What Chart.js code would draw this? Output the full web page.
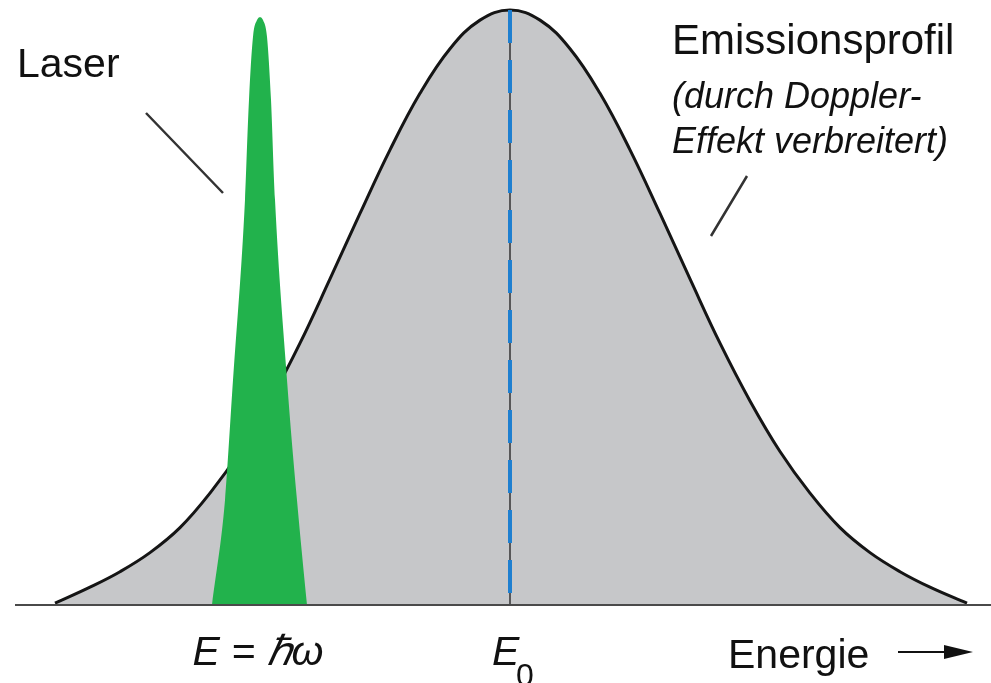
<!DOCTYPE html>
<html lang="de">
<head>
<meta charset="utf-8">
<title>Emissionsprofil und Laser</title>
<script src="https://cdn.jsdelivr.net/npm/chart.js@4/dist/chart.umd.min.js"></script>
<style>
    html, body { margin: 0; padding: 0; background: #fff; }
    canvas { display: block; }
</style>
</head>
<body>
<canvas id="profileChart" width="991" height="683"></canvas>
<script>
// Energie in willkürlichen Einheiten, Intensität auf das Profilmaximum normiert
const profileEnergy = [55, 90, 120, 150, 180, 210, 240, 270, 300, 330, 360, 390, 420, 450, 480, 510,
    540, 570, 600, 630, 660, 690, 720, 750, 780, 810, 840, 870, 900, 930, 967];
const profileIntensity = [0.003, 0.03, 0.056, 0.088, 0.13, 0.188, 0.258, 0.343, 0.44, 0.548, 0.658, 0.765, 0.86, 0.935, 0.983, 1.0,
    0.983, 0.935, 0.86, 0.765, 0.658, 0.548, 0.44, 0.343, 0.258, 0.188, 0.13, 0.088, 0.056, 0.03, 0.003];

const laserEnergy = [212, 225, 233, 245, 249, 253, 257, 260, 263, 267, 271, 275, 287, 297, 307];
const laserIntensity = [0, 0.176, 0.378, 0.681, 0.849, 0.955, 0.983, 0.988, 0.983, 0.955, 0.849, 0.681, 0.378, 0.176, 0];

const lineCenter = 510;      // E0
const laserCenter = 260;     // E = ħω
const axisRange = [15, 991];
const energyLabels = ['E = ℏω', 'E', '0'];

const toPoints = (xs, ys) => xs.map((x, i) => ({ x, y: ys[i] }));

// ── Beschriftungen, Hinweislinien und Pfeil ─────────────────────────
const annotationPlugin = {
    id: 'annotations',
    afterDraw(chart) {
        const { ctx, scales: { x } } = chart;
        ctx.save();
        ctx.fillStyle = '#111';
        ctx.textBaseline = 'alphabetic';

        ctx.font = '41px "Liberation Sans", Arial, sans-serif';
        ctx.fillText('Laser', 17, 77);
        ctx.font = '42px "Liberation Sans", Arial, sans-serif';
        ctx.fillText('Emissionsprofil', 672, 54);
        ctx.font = 'italic 36px "Liberation Sans", Arial, sans-serif';
        ctx.fillText('(durch Doppler-', 672, 108);
        ctx.fillText('Effekt verbreitert)', 672, 153);

        ctx.strokeStyle = '#333';
        ctx.lineWidth = 2.5;
        ctx.beginPath();
        ctx.moveTo(146, 113);
        ctx.lineTo(223, 193);
        ctx.moveTo(747, 176);
        ctx.lineTo(711, 236);
        ctx.stroke();

        // Marken unter der Achse
        ctx.font = 'italic 41px "Liberation Sans", Arial, sans-serif';
        ctx.textAlign = 'center';
        ctx.fillText(energyLabels[0], x.getPixelForValue(laserCenter) - 2, 665);
        ctx.textAlign = 'left';
        ctx.fillText(energyLabels[1], x.getPixelForValue(lineCenter) - 18, 665);
        ctx.font = '32px "Liberation Sans", Arial, sans-serif';
        ctx.fillText(energyLabels[2], x.getPixelForValue(lineCenter) + 6, 686);

        ctx.font = '41px "Liberation Sans", Arial, sans-serif';
        ctx.fillText('Energie', 728, 668);

        ctx.strokeStyle = '#111';
        ctx.lineWidth = 2;
        ctx.beginPath();
        ctx.moveTo(898, 652);
        ctx.lineTo(950, 652);
        ctx.stroke();
        ctx.beginPath();
        ctx.moveTo(944, 645);
        ctx.lineTo(973, 652);
        ctx.lineTo(944, 659);
        ctx.closePath();
        ctx.fill();
        ctx.restore();
    },
};

document.addEventListener('DOMContentLoaded', () => {
    const canvas = document.getElementById('profileChart');
    new Chart(canvas, {
        type: 'line',
        data: {
            datasets: [
                {
                    label: 'Achse',
                    data: toPoints(axisRange, [0, 0]),
                    borderColor: '#4a4a4a',
                    borderWidth: 2,
                    pointRadius: 0,
                    fill: false,
                    clip: false,
                    order: 0,
                },
                {
                    label: 'Laser',
                    data: toPoints(laserEnergy, laserIntensity),
                    backgroundColor: '#22b24c',
                    borderWidth: 0,
                    pointRadius: 0,
                    fill: 'origin',
                    cubicInterpolationMode: 'monotone',
                    clip: false,
                    order: 1,
                },
                {
                    label: 'E0 gestrichelt',
                    data: toPoints([lineCenter, lineCenter], [1, 0]),
                    borderColor: '#1e7fd0',
                    borderWidth: 4,
                    borderDash: [33, 17],
                    pointRadius: 0,
                    fill: false,
                    clip: false,
                    order: 2,
                },
                {
                    label: 'E0',
                    data: toPoints([lineCenter, lineCenter], [1, 0]),
                    borderColor: '#333',
                    borderWidth: 1.5,
                    pointRadius: 0,
                    fill: false,
                    clip: false,
                    order: 3,
                },
                {
                    label: 'Emissionsprofil',
                    data: toPoints(profileEnergy, profileIntensity),
                    borderColor: '#151515',
                    backgroundColor: '#c6c7c9',
                    borderWidth: 3,
                    pointRadius: 0,
                    fill: 'origin',
                    tension: 0.4,
                    clip: false,
                    order: 4,
                },
            ],
        },
        options: {
            responsive: false,
            animation: false,
            devicePixelRatio: 1,
            layout: { padding: { top: 10, bottom: 78, left: 0, right: 0 } },
            plugins: { legend: { display: false }, tooltip: { enabled: false } },
            scales: {
                x: { type: 'linear', min: 0, max: 991, display: false },
                y: { min: 0, max: 1, display: false },
            },
        },
        plugins: [annotationPlugin],
    });
});
</script>
</body>
</html>
